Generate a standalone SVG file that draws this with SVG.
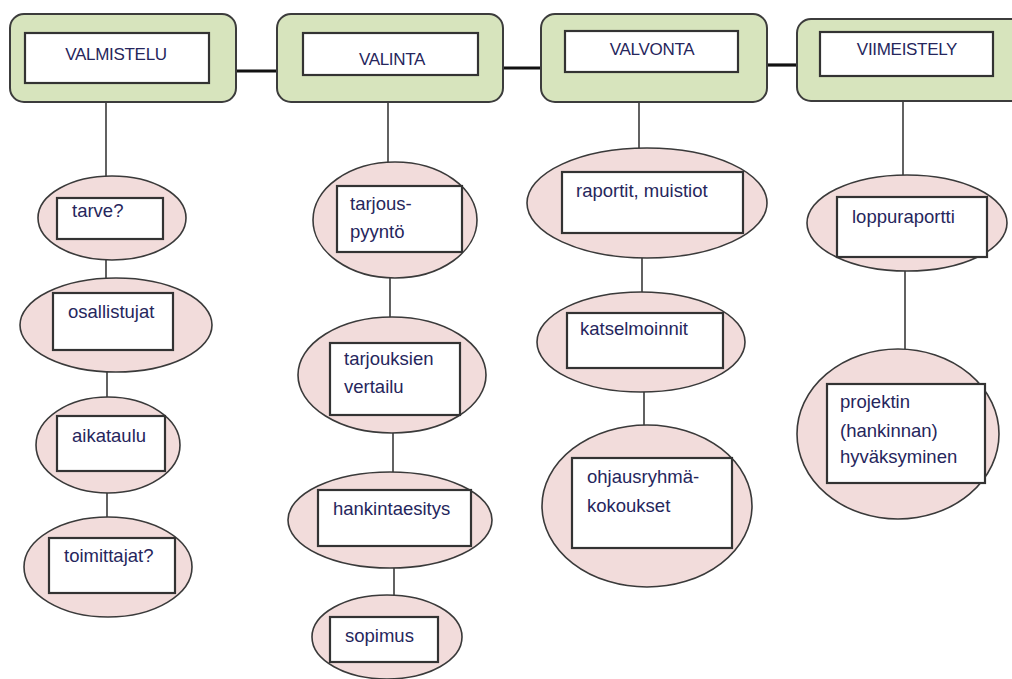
<svg xmlns="http://www.w3.org/2000/svg" width="1012" height="679" viewBox="0 0 1012 679">
<style>
.hdr{fill:#d7e4bd;stroke:#3c3c3c;stroke-width:2}
.ell{fill:#f2dcdb;stroke:#3a3a3a;stroke-width:1.6}
.box{fill:#ffffff;stroke:#333333;stroke-width:2.2}
.t{font-family:"Liberation Sans",Arial,sans-serif;font-size:18.5px;fill:#26265c}
.th{font-family:"Liberation Sans",Arial,sans-serif;font-size:17px;fill:#26265c;text-anchor:middle;letter-spacing:-0.3px}
.c{stroke:#3a3a3a;stroke-width:1.6;fill:none}
.ch{stroke:#111111;stroke-width:3.2;fill:none}
</style>
<rect width="1012" height="679" fill="#ffffff"/>
<g id="connectors">
<line class="ch" x1="236" y1="71" x2="277" y2="71"/>
<line class="ch" x1="503" y1="68" x2="541" y2="68"/>
<line class="ch" x1="767" y1="65" x2="797" y2="65"/>
<line class="c" x1="106" y1="102" x2="106" y2="177"/>
<line class="c" x1="106" y1="260" x2="106" y2="278"/>
<line class="c" x1="107" y1="372" x2="107" y2="397"/>
<line class="c" x1="107" y1="493" x2="107" y2="517"/>
<line class="c" x1="388" y1="102" x2="388" y2="162"/>
<line class="c" x1="390" y1="278" x2="390" y2="317"/>
<line class="c" x1="393" y1="433" x2="393" y2="472"/>
<line class="c" x1="394" y1="568" x2="394" y2="595"/>
<line class="c" x1="639" y1="102" x2="639" y2="148"/>
<line class="c" x1="642" y1="258" x2="642" y2="292"/>
<line class="c" x1="644" y1="392" x2="644" y2="425"/>
<line class="c" x1="903" y1="101" x2="903" y2="175"/>
<line class="c" x1="905" y1="271" x2="905" y2="349"/>
</g>
<g id="valmistelu">
<rect class="hdr" x="10" y="14" width="226" height="88" rx="14"/>
<rect class="box" x="25" y="33" width="184" height="50"/>
<text class="th" x="116" y="60">VALMISTELU</text>
</g>
<g id="valinta">
<rect class="hdr" x="277" y="14" width="226" height="88" rx="14"/>
<rect class="box" x="303" y="33" width="175" height="42"/>
<text class="th" x="392" y="65">VALINTA</text>
</g>
<g id="valvonta">
<rect class="hdr" x="541" y="14" width="226" height="88" rx="14"/>
<rect class="box" x="565" y="31" width="173" height="41"/>
<text class="th" x="652" y="55">VALVONTA</text>
</g>
<g id="viimeistely">
<rect class="hdr" x="797" y="19" width="240" height="82" rx="14"/>
<rect class="box" x="820" y="32" width="173" height="44"/>
<text class="th" x="907" y="55">VIIMEISTELY</text>
</g>
<g id="tarve">
<ellipse class="ell" cx="112" cy="218" rx="74" ry="42"/>
<rect class="box" x="57" y="198" width="106" height="41"/>
<text class="t" x="72" y="217">tarve?</text>
</g>
<g id="osallistujat">
<ellipse class="ell" cx="116" cy="325" rx="96" ry="47"/>
<rect class="box" x="53" y="293" width="120" height="57"/>
<text class="t" x="68" y="318">osallistujat</text>
</g>
<g id="aikataulu">
<ellipse class="ell" cx="108" cy="445" rx="72" ry="48"/>
<rect class="box" x="57" y="416" width="108" height="55"/>
<text class="t" x="72" y="442">aikataulu</text>
</g>
<g id="toimittajat">
<ellipse class="ell" cx="108" cy="567" rx="84" ry="50"/>
<rect class="box" x="49" y="538" width="126" height="55"/>
<text class="t" x="64" y="562">toimittajat?</text>
</g>
<g id="tarjouspyynto">
<ellipse class="ell" cx="395" cy="220" rx="82" ry="58"/>
<rect class="box" x="337" y="186" width="125" height="66"/>
<text class="t" x="350" y="210">tarjous-</text>
<text class="t" x="350" y="238">pyyntö</text>
</g>
<g id="tarjouksien-vertailu">
<ellipse class="ell" cx="392" cy="375" rx="94" ry="58"/>
<rect class="box" x="330" y="343" width="130" height="72"/>
<text class="t" x="344" y="365">tarjouksien</text>
<text class="t" x="344" y="393">vertailu</text>
</g>
<g id="hankintaesitys">
<ellipse class="ell" cx="390" cy="520" rx="102" ry="48"/>
<rect class="box" x="318" y="490" width="153" height="56"/>
<text class="t" x="333" y="515">hankintaesitys</text>
</g>
<g id="sopimus">
<ellipse class="ell" cx="387" cy="637" rx="75" ry="42"/>
<rect class="box" x="330" y="617" width="108" height="45"/>
<text class="t" x="345" y="642">sopimus</text>
</g>
<g id="raportit">
<ellipse class="ell" cx="647" cy="203" rx="120" ry="55"/>
<rect class="box" x="562" y="172" width="181" height="61"/>
<text class="t" x="576" y="197">raportit, muistiot</text>
</g>
<g id="katselmoinnit">
<ellipse class="ell" cx="641" cy="342" rx="104" ry="50"/>
<rect class="box" x="567" y="313" width="156" height="55"/>
<text class="t" x="580" y="335">katselmoinnit</text>
</g>
<g id="ohjausryhma">
<ellipse class="ell" cx="647" cy="506" rx="105" ry="81"/>
<rect class="box" x="572" y="458" width="160" height="90"/>
<text class="t" x="587" y="483">ohjausryhmä-</text>
<text class="t" x="587" y="512">kokoukset</text>
</g>
<g id="loppuraportti">
<ellipse class="ell" cx="907" cy="223" rx="100" ry="48"/>
<rect class="box" x="837" y="197" width="150" height="60"/>
<text class="t" x="852" y="223">loppuraportti</text>
</g>
<g id="hyvaksyminen">
<ellipse class="ell" cx="898" cy="434" rx="101" ry="85"/>
<rect class="box" x="827" y="384" width="158" height="99"/>
<text class="t" x="840" y="408">projektin</text>
<text class="t" x="840" y="437">(hankinnan)</text>
<text class="t" x="840" y="463">hyväksyminen</text>
</g>
</svg>
